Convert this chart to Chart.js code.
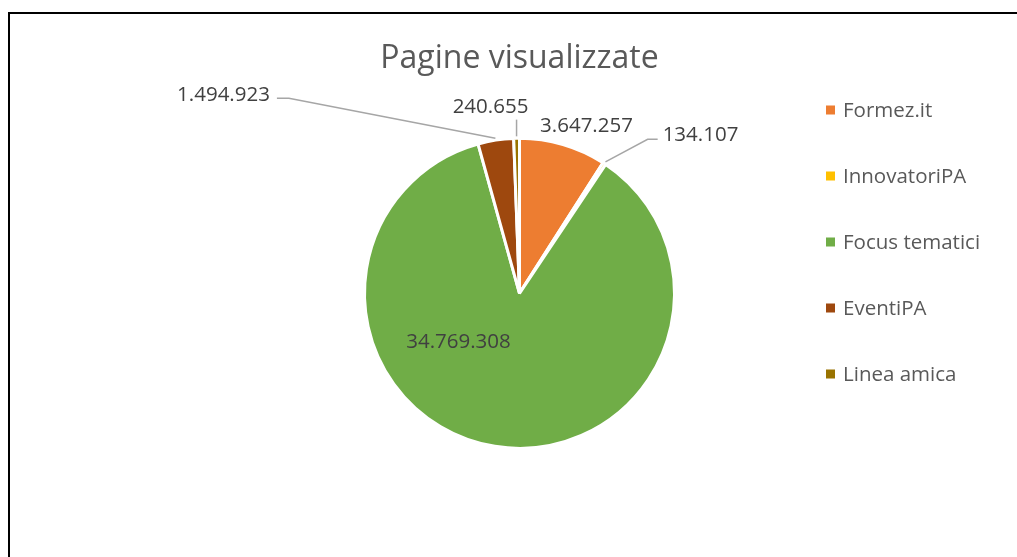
<!DOCTYPE html>
<html lang="it">
<head>
<meta charset="utf-8">
<title>Pagine visualizzate</title>
<script src="https://cdn.jsdelivr.net/npm/chart.js@4.4.1/dist/chart.umd.min.js"></script>
<style>
  html, body { margin: 0; padding: 0; background: #fff; }
  canvas { display: block; }
</style>
</head>
<body>
<canvas id="chart" width="1017" height="557"></canvas>
<script>
// Torta "Pagine visualizzate" per canale, stile grafico Excel
const TITLE = "Pagine visualizzate";
const CATEGORIES = ["Formez.it", "InnovatoriPA", "Focus tematici", "EventiPA", "Linea amica"];
const PAGE_VIEWS = [3647257, 134107, 34769308, 1494923, 240655];
const SLICE_COLORS = ["#ed7d31", "#ffc000", "#70ad47", "#9e480e", "#997300"];

// posizione delle etichette (centro del testo rispetto al centro della torta) e tipo di richiamo
const LABEL_LAYOUT = [
  { dx: 67, dy: -169, leader: null },
  { dx: 181, dy: -160, leader: "left" },
  { dx: -61, dy: 47, leader: null },
  { dx: -296, dy: -200, leader: "right" },
  { dx: -29, dy: -188, leader: "below" },
];

const FONT = '"Open Sans", sans-serif';
const CAP = 0.714; // altezza maiuscole Open Sans
const TEXT_SIZE = 20.5;
const TITLE_SIZE = 32;

function fmt(v) {
  return String(v).replace(/\B(?=(\d{3})+(?!\d))/g, ".");
}

const excelLook = {
  id: "excelLook",
  beforeDraw(chart) {
    const ctx = chart.ctx;
    ctx.save();
    ctx.fillStyle = "#fff";
    ctx.fillRect(0, 0, chart.width, chart.height);
    ctx.restore();
  },
  afterDraw(chart) {
    const ctx = chart.ctx;
    const arcs = chart.getDatasetMeta(0).data;
    const cx = arcs[0].x;
    const cy = arcs[0].y;
    const capH = TEXT_SIZE * CAP;
    ctx.save();

    // cornice del grafico
    ctx.strokeStyle = "#000";
    ctx.lineWidth = 2;
    ctx.strokeRect(9, 13, 2000, 2000);

    // titolo
    ctx.font = `${TITLE_SIZE}px ${FONT}`;
    ctx.fillStyle = "#595959";
    ctx.textAlign = "center";
    ctx.textBaseline = "alphabetic";
    ctx.fillText(TITLE, cx, 67.5);

    // etichette dati + linee di richiamo
    ctx.font = `${TEXT_SIZE}px ${FONT}`;
    ctx.textAlign = "left";
    ctx.strokeStyle = "#a6a6a6";
    ctx.lineWidth = 1.5;
    arcs.forEach((arc, i) => {
      const text = fmt(PAGE_VIEWS[i]);
      const lay = LABEL_LAYOUT[i];
      const w = ctx.measureText(text).width;
      const tx = cx + lay.dx - w / 2;
      const midY = cy + lay.dy;
      const base = midY + capH / 2;
      ctx.fillStyle = "#404040";
      ctx.fillText(text, tx, base);
      if (!lay.leader) return;
      const mid = (arc.startAngle + arc.endAngle) / 2;
      const r = arc.outerRadius + 2;
      const sx = cx + Math.cos(mid) * r;
      const sy = cy + Math.sin(mid) * r;
      ctx.beginPath();
      ctx.moveTo(sx, sy);
      if (lay.leader === "left") {
        const ax = tx - 5, ay = midY + 6;
        ctx.lineTo(ax - 10, ay);
        ctx.lineTo(ax, ay);
      } else if (lay.leader === "right") {
        const ax = tx + w + 7, ay = midY + 5;
        ctx.lineTo(ax + 12, ay);
        ctx.lineTo(ax, ay);
      } else {
        ctx.lineTo(sx, base + 7);
      }
      ctx.stroke();
    });

    // legenda a destra
    CATEGORIES.forEach((name, i) => {
      const y = 110 + i * 66;
      ctx.fillStyle = SLICE_COLORS[i];
      ctx.fillRect(826, y - 4.5, 9, 9);
      ctx.fillStyle = "#595959";
      ctx.fillText(name, 843, y + capH / 2);
    });

    ctx.restore();
  },
};

new Chart(document.getElementById("chart"), {
  type: "pie",
  data: {
    labels: CATEGORIES,
    datasets: [{
      data: PAGE_VIEWS,
      backgroundColor: SLICE_COLORS,
      borderColor: "#ffffff",
      borderWidth: 3,
    }],
  },
  options: {
    responsive: false,
    animation: false,
    radius: 155,
    layout: { padding: { left: 100, right: 78, top: 60, bottom: 30.4 } },
    plugins: {
      legend: { display: false },
      tooltip: { enabled: false },
      title: { display: false },
    },
  },
  plugins: [excelLook],
});
</script>
</body>
</html>
